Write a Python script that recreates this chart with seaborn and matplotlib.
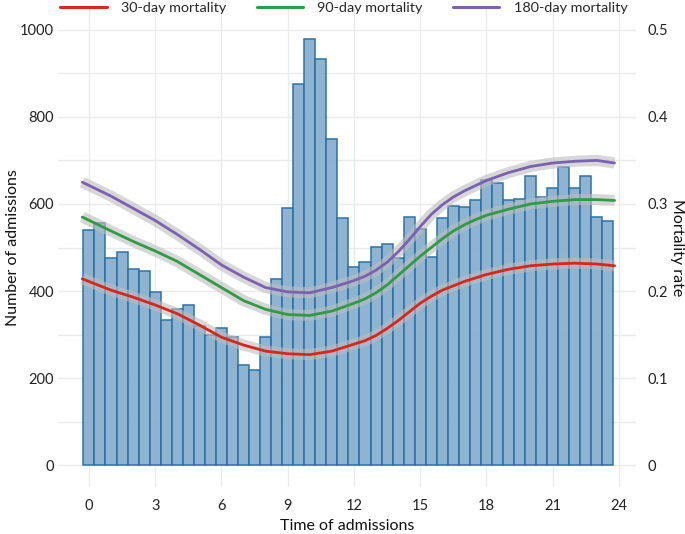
import numpy as np
import pandas as pd
import matplotlib
matplotlib.use("Agg")
import matplotlib.pyplot as plt
import seaborn as sns
from matplotlib.lines import Line2D

# ---------------- data ----------------
bin_hours = [0, 0.5, 1, 1.5, 2, 2.5, 3, 3.5, 4, 4.5, 5, 5.5, 6, 6.5, 7, 7.5,
             8, 8.5, 9, 9.5, 10, 10.5, 11, 11.5, 12, 12.5, 13, 13.5, 14, 14.5,
             15, 15.5, 16, 16.5, 17, 17.5, 18, 18.5, 19, 19.5, 20, 20.5, 21,
             21.5, 22, 22.5, 23, 23.5]
admissions = [541, 557, 475, 489, 450, 447, 398, 334, 359, 369, 320, 298, 316,
              294, 230, 218, 295, 427, 591, 876, 979, 932, 749, 568, 456, 466,
              501, 507, 475, 569, 543, 479, 568, 595, 592, 610, 654, 648, 608,
              612, 664, 616, 637, 686, 636, 665, 569, 560]

curve_hours = [-0.3, 1, 2, 3, 4, 5, 6, 7, 8, 9, 10, 11, 12, 12.5, 13, 13.5,
               14, 14.5, 15, 15.5, 16, 16.5, 17, 17.5, 18, 19, 20, 21, 22,
               23, 23.8]
mort30 = [0.214, 0.201, 0.193, 0.184, 0.174, 0.161, 0.147, 0.138, 0.131,
          0.128, 0.127, 0.131, 0.139, 0.143, 0.149, 0.157, 0.166, 0.176,
          0.186, 0.194, 0.201, 0.206, 0.211, 0.215, 0.219, 0.225, 0.229,
          0.231, 0.232, 0.231, 0.229]
mort90 = [0.285, 0.269, 0.257, 0.246, 0.234, 0.219, 0.204, 0.189, 0.179,
          0.173, 0.172, 0.177, 0.186, 0.191, 0.198, 0.207, 0.218, 0.229,
          0.240, 0.250, 0.260, 0.269, 0.276, 0.282, 0.287, 0.294, 0.300,
          0.303, 0.305, 0.305, 0.304]
mort180 = [0.325, 0.309, 0.295, 0.281, 0.265, 0.248, 0.230, 0.216, 0.204,
           0.199, 0.198, 0.204, 0.212, 0.217, 0.224, 0.233, 0.245, 0.259,
           0.274, 0.288, 0.299, 0.308, 0.315, 0.321, 0.327, 0.336, 0.343,
           0.347, 0.349, 0.350, 0.347]

series_names = ["30-day mortality", "90-day mortality", "180-day mortality"]
series_colors = ["#D9261C", "#2E9B45", "#7A62B0"]

x_ticks = [0, 3, 6, 9, 12, 15, 18, 21, 24]
y_left_ticks = [0, 200, 400, 600, 800, 1000]
y_right_ticks = [0, 0.1, 0.2, 0.3, 0.4, 0.5]
y_right_labels = ["0", "0.1", "0.2", "0.3", "0.4", "0.5"]

# ---------------- style ----------------
sns.set_theme(style="white")
plt.rcParams["font.family"] = ["Lato", "DejaVu Sans"]

fig = plt.figure(figsize=(6.85, 5.34), dpi=100)
ax = fig.add_axes([58 / 685, 1 - 487 / 534, 578 / 685, 479 / 534])
ax.set_xlim(-1.4, 24.77)
ax.set_ylim(-50, 1050)

grid_c = "#EBEBEB"
for v in range(0, 1001, 100):
    ax.axhline(v, color=grid_c, lw=1.0, zorder=0)
for v in x_ticks:
    ax.axvline(v, color=grid_c, lw=1.0, zorder=0)

bars = pd.DataFrame({"hour": bin_hours, "n": admissions})
sns.histplot(data=bars, x="hour", weights="n", bins=48, binrange=(-0.25, 23.75),
             color="#7FAACB", alpha=0.88, edgecolor="#2C72A6", linewidth=1.1,
             ax=ax, zorder=2)

ax.set_xticks(x_ticks)
ax.set_xticklabels([str(t) for t in x_ticks])
ax.set_yticks(y_left_ticks)
ax.set_yticklabels([str(t) for t in y_left_ticks])
ax.tick_params(axis="both", length=0, labelsize=10.5, colors="#222222")
ax.tick_params(axis="x", pad=9)
ax.tick_params(axis="y", pad=3)
ax.set_xlabel("Time of admissions", fontsize=11.5, color="#111111", labelpad=4)
ax.set_ylabel("Number of admissions", fontsize=11.5, color="#111111",
              va="center")
ax.yaxis.set_label_coords((13 - 58) / 578, 0.5)
for s in ax.spines.values():
    s.set_visible(False)
ax.grid(False)

ax2 = ax.twinx()
ax2.set_ylim(-0.025, 0.525)
ax2.set_xlim(-1.4, 24.77)
curves = pd.DataFrame({"hour": curve_hours * 3,
                       "rate": mort30 + mort90 + mort180,
                       "series": np.repeat(series_names, len(curve_hours))})
for name in series_names:
    sub = curves[curves["series"] == name]
    ax2.plot(sub["hour"], sub["rate"], color="#BDBDBD", alpha=0.6, lw=8.0,
             solid_capstyle="butt", solid_joinstyle="round", zorder=3)
sns.lineplot(data=curves, x="hour", y="rate", hue="series",
             hue_order=series_names, palette=series_colors, lw=2.0,
             sort=False, legend=False, ax=ax2, zorder=4)
ax2.set_yticks(y_right_ticks)
ax2.set_yticklabels(y_right_labels)
ax2.tick_params(axis="y", length=0, labelsize=10.5, colors="#222222", pad=8)
ax2.set_ylabel("Mortality rate", fontsize=11.5, color="#111111", rotation=270,
               va="center")
ax2.yaxis.set_label_coords((677 - 58) / 578, 0.5)
ax2.set_xlabel("")
ax2.grid(False)
for s in ax2.spines.values():
    s.set_visible(False)
ax2.patch.set_visible(False)

handles = [Line2D([0], [0], color=c, lw=2.2) for c in series_colors]
fig.legend(handles, series_names, loc="center", bbox_to_anchor=(0.502, 0.985),
           ncol=3, frameon=False, fontsize=10.4, handlelength=3.2,
           columnspacing=2.1, handletextpad=1.0)

fig.savefig("out.png", dpi=100)
